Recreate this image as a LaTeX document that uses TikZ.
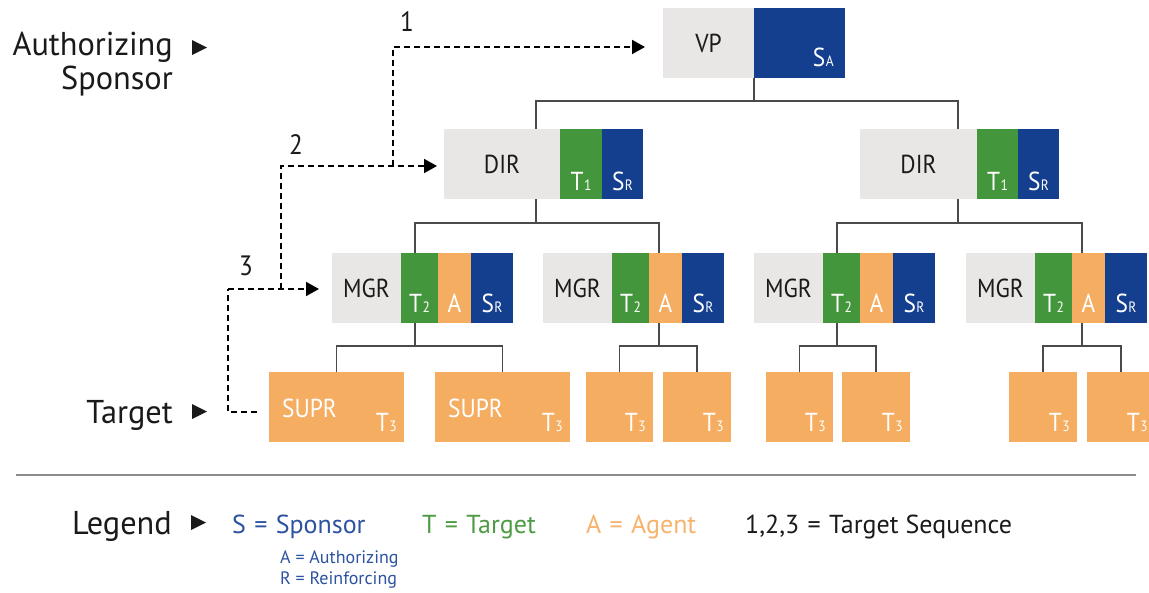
\documentclass[tikz,border=0pt]{standalone}
\usepackage{fontspec}
\setmainfont[FakeStretch=0.9]{PT Sans}
\newfontfamily\legendfont{PT Sans}
\newfontfamily\sidefont[FakeStretch=0.98]{PT Sans}
\usetikzlibrary{arrows.meta,calc}

\definecolor{boxgray}{HTML}{E8E7E5}
\definecolor{sblue}{HTML}{133F8E}
\definecolor{tgreen}{HTML}{43963C}
\definecolor{aorange}{HTML}{F5AD62}
\definecolor{lgblue}{HTML}{2C52A0}
\definecolor{lggreen}{HTML}{4C9B42}
\definecolor{lgorange}{HTML}{F7B36C}
\definecolor{treeline}{HTML}{4A4A4A}
\definecolor{rulegray}{HTML}{8C8C8C}
\definecolor{ink}{HTML}{1A1A1A}

\newcommand{\fsz}[1]{\fontsize{#1}{#1}\selectfont}
% a role letter followed by its small index on the same baseline
\newcommand{\role}[2]{#1\kern0.5pt{\fsz{15}#2}}
% legend entries: symbol, equals sign, meaning
\newcommand{\eqdef}[2]{#1\hspace{0.32em}=\hspace{0.32em}#2}

\begin{document}
\begin{tikzpicture}[x=1pt,y=-1pt,
  cell/.style={anchor=north west, inner sep=0pt, outer sep=0pt,
               minimum height=70pt, minimum width=#1},
  grey/.style={cell=#1, fill=boxgray},
  blu/.style={cell=#1, fill=sblue},
  grn/.style={cell=#1, fill=tgreen},
  org/.style={cell=#1, fill=aorange},
  title/.style={inner sep=0pt, text=ink, font=\fsz{26}},
  tagtxt/.style={inner sep=0pt, text=white, font=\fsz{26}, anchor=base},
  side/.style={inner sep=0pt, text=ink, font=\sidefont\fsz{33}, anchor=base east},
  num/.style={inner sep=0pt, text=ink, font=\fsz{28}},
  legend/.style={inner sep=0pt, font=\legendfont\fsz{26}, anchor=base west},
  sublegend/.style={inner sep=0pt, font=\legendfont\fsz{18}, anchor=base west, text=lgblue},
  tree/.style={draw=treeline, line width=1.5pt},
  seq/.style={draw=black, line width=2pt, dash pattern=on 6pt off 4pt},
  seqarrow/.style={seq, -{Triangle[length=13pt,width=14pt]}},
  pointer/.style={fill=ink}
]
\useasboundingbox (0,0) rectangle (1149,592);

% ---------- VP ----------
\node[grey=91] (vp)  at (663,8) {};
\node[blu=91]  (vpS) at (754,8) {};
\node[title] at (vp.center) {VP};
\node[tagtxt, anchor=base east] at ($(vpS.south east)+(-11,-12)$) {\role{S}{A}};

% ---------- Directors ----------
\node[grey=116] (dL)  at (444,129) {};
\node[grn=42]   (dLT) at (560,129) {};
\node[blu=41]   (dLS) at (602,129) {};
\node[title] at (dL.center) {DIR};
\node[tagtxt] at ($(dLT.south)+(0,-9)$) {\role{T}{1}};
\node[tagtxt] at ($(dLS.south)+(0,-9)$) {\role{S}{R}};

\node[grey=117] (dR)  at (860,129) {};
\node[grn=41]   (dRT) at (977,129) {};
\node[blu=41]   (dRS) at (1018,129) {};
\node[title] at (dR.center) {DIR};
\node[tagtxt] at ($(dRT.south)+(0,-9)$) {\role{T}{1}};
\node[tagtxt] at ($(dRS.south)+(0,-9)$) {\role{S}{R}};

% ---------- Managers ----------
\foreach \n/\x in {m1/332, m2/543, m3/754, m4/966}{
  \node[grey=69] (\n)  at (\x,253) {};
  \node[grn=37]  (\n T) at (\x+69,253) {};
  \node[org=33]  (\n A) at (\x+106,253) {};
  \node[blu=42]  (\n S) at (\x+139,253) {};
  \node[title] at (\n.center) {MGR};
  \node[tagtxt] at ($(\n T.south)+(0,-11)$) {\role{T}{2}};
  \node[tagtxt] at ($(\n A.south)+(0,-11)$) {A};
  \node[tagtxt] at ($(\n S.south)+(0,-11)$) {\role{S}{R}};
}

% ---------- Supervisors ----------
\node[org=135] (l1) at (269,372) {};
\node[org=135] (l2) at (435,372) {};
\node[org=67]  (l3) at (586,372) {};
\node[org=68]  (l4) at (663,372) {};
\node[org=67]  (l5) at (766,372) {};
\node[org=68]  (l6) at (842,372) {};
\node[org=68]  (l7) at (1009,372) {};
\node[org=68]  (l8) at (1087,372) {};
\foreach \n in {l1,l2,l3,l4,l5,l6,l7,l8}{
  \node[tagtxt, anchor=base east] at ($(\n.south east)+(-7,-11)$) {\role{T}{3}};
}
\node[tagtxt, anchor=base west] at ($(l1.south west)+(13,-25)$) {SUPR};
\node[tagtxt, anchor=base west] at ($(l2.south west)+(13,-25)$) {SUPR};

% ---------- Reporting lines ----------
\coordinate (dLi) at (536,129);  \coordinate (dRi) at (958,129);
\coordinate (dLo) at (536,199);  \coordinate (dRo) at (958,199);
\coordinate (m1i) at (415,253);  \coordinate (m2i) at (659,253);
\coordinate (m3i) at (837,253);  \coordinate (m4i) at (1082,253);
\coordinate (m1o) at (415,323);  \coordinate (m2o) at (659,323);
\coordinate (m3o) at (837,323);  \coordinate (m4o) at (1082,323);

\draw[tree] (vpS.south west) -- ++(0,23) coordinate (vpj);
\draw[tree] (dLi) |- (vpj) -| (dRi);
\draw[tree] (dLo) -- ++(0,24) coordinate (dLj);
\draw[tree] (m1i) |- (dLj) -| (m2i);
\draw[tree] (dRo) -- ++(0,24) coordinate (dRj);
\draw[tree] (m3i) |- (dRj) -| (m4i);
\draw[tree] (m1o) -- ++(0,23) coordinate (m1j);
\draw[tree] (l1.north) |- (m1j) -| (l2.north);
\draw[tree] (m2o) -- ++(0,23) coordinate (m2j);
\draw[tree] (l3.north) |- (m2j) -| (l4.north);
\draw[tree] (m3o) -- ++(0,23) coordinate (m3j);
\draw[tree] (l5.north) |- (m3j) -| (l6.north);
\draw[tree] (m4o) -- ++(0,23) coordinate (m4j);
\draw[tree] (l7.north) |- (m4j) -| (l8.north);

% ---------- Target sequence ----------
\coordinate (s3) at (257,412);
\coordinate (c3) at (228,289);
\coordinate (a3) at (319,289);
\coordinate (s2) at (281,289);
\coordinate (a2) at (437,166);
\coordinate (s1) at (393,166);
\coordinate (a1) at (645,47);
\draw[seq] (s3) -| (c3);
\draw[seqarrow] (c3) -- (a3);
\draw[seqarrow] (s2) |- (a2);
\draw[seqarrow] (s1) |- (a1);
\node[num] (n1) at (407,22)  {1};
\node[num] (n2) at (296,145) {2};
\node[num] (n3) at (246,266) {3};

% ---------- Level labels ----------
\node[side] (auth) at (173,55) {Authorizing};
\node[side] (spon) at (173,89) {Sponsor};
\fill[pointer] (192,40) -- (207,47.5) -- (192,55) -- cycle;
\node[side] (tgt) at (173,423) {Target};
\fill[pointer] (192,404) -- (207,411.5) -- (192,419) -- cycle;

\draw[draw=rulegray, line width=2pt] (16,475) -- (1136,475);

% ---------- Legend ----------
\node[side] (leg) at (172,534) {Legend};
\fill[pointer] (191,515) -- (206,522.5) -- (191,530) -- cycle;
\node[legend, text=lgblue]   (lgS) at (232,533) {\eqdef{S}{Sponsor}};
\node[legend, text=lggreen]  (lgT) at (422,533) {\eqdef{T}{Target}};
\node[legend, text=lgorange] (lgA) at (586,533) {\eqdef{A}{Agent}};
\node[legend, text=ink]      (lgN) at (745,533) {\eqdef{1,2,3}{Target Sequence}};
\node[sublegend] (lgSA) at (280,563) {A = Authorizing};
\node[sublegend] (lgSR) at (280,584) {R = Reinforcing};
\end{tikzpicture}
\end{document}
